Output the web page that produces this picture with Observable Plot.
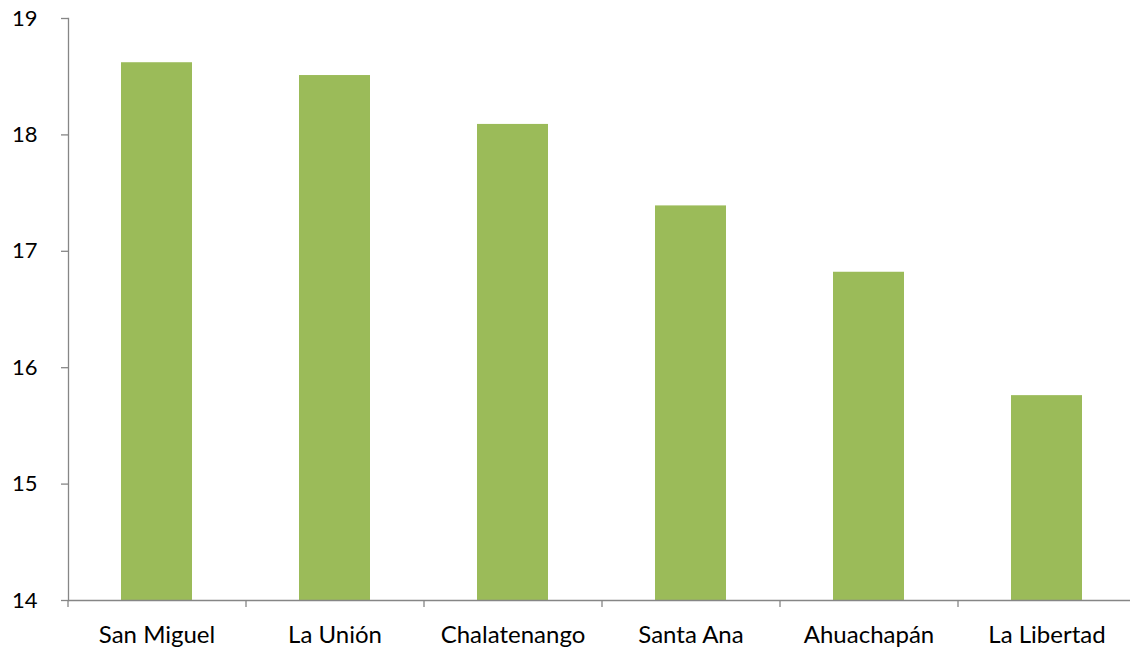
<!DOCTYPE html>
<html>
<head>
<meta charset="utf-8">
<script src="https://cdn.jsdelivr.net/npm/d3@7"></script>
<script src="https://cdn.jsdelivr.net/npm/@observablehq/plot@0.6"></script>
<style>
  html, body { margin: 0; padding: 0; background: #fff; }
</style>
</head>
<body>
<div id="chart"></div>
<script>
const departamentos = ["San Miguel", "La Unión", "Chalatenango", "Santa Ana", "Ahuachapán", "La Libertad"];
const valores = [18.62, 18.51, 18.09, 17.39, 16.82, 15.76];
const yTicks = [14, 15, 16, 17, 18, 19];

const data = departamentos.map((d, i) => ({departamento: d, valor: valores[i]}));

const axisColor = "#868686";
const chart = Plot.plot({
  width: 1130,
  height: 647,
  marginTop: 18,
  marginBottom: 47,
  marginLeft: 68,
  marginRight: 0,
  style: {fontFamily: "Lato, 'Open Sans', sans-serif", fontSize: "22px", color: "#000", background: "#fff", overflow: "visible"},
  x: {domain: departamentos, range: [68, 1136], paddingInner: 0.6, paddingOuter: 0.3},
  y: {domain: [14, 19]},
  marks: [
    Plot.barY(data, {x: "departamento", y1: 14, y2: "valor", fill: "#9BBB59"}),
    Plot.ruleY([14], {stroke: axisColor, strokeWidth: 1.3}),
    Plot.frame({anchor: "left", stroke: axisColor, strokeWidth: 1.3}),
    Plot.ruleX(departamentos, {x: d => d, y1: 14, y2: 14, insetBottom: -7, dx: -89, stroke: axisColor, strokeWidth: 1.3}),
    Plot.axisY(yTicks, {tickSize: 7, tickPadding: 24, tickFormat: d => String(d), stroke: axisColor, strokeWidth: 1.3, label: null, fill: "#000", fontSize: 22}),
    Plot.axisX({tickSize: 0, tickPadding: 25, label: null, fill: "#000", fontSize: 24})
  ]
});
document.getElementById("chart").appendChild(chart);
</script>
</body>
</html>
